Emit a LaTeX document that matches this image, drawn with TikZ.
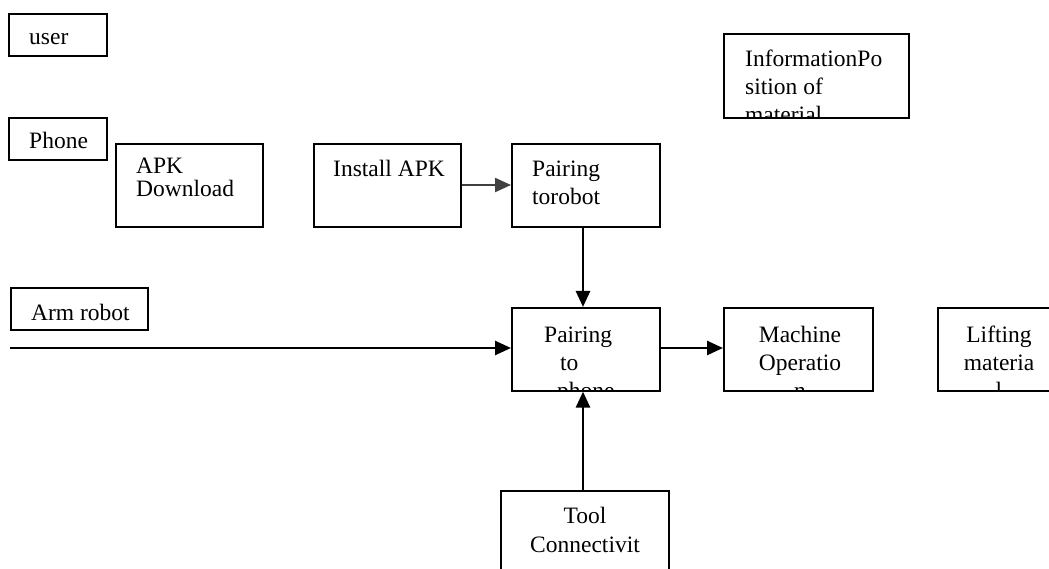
\documentclass[tikz,border=0pt]{standalone}
\usepackage{fontspec}
\setmainfont{Liberation Serif}
\usetikzlibrary{arrows.meta}

\tikzset{
  box/.style={draw=black, line width=1.6pt, fill=none, inner sep=0pt, anchor=north west},
  label/.style={inner sep=0pt, font=\fontsize{23.5}{28}\selectfont},
  flow/.style={line width=2.6pt, -{Triangle[length=16pt,width=14pt]}},
}

% a box of given corners; its text is clipped to the frame
\newcommand{\cbox}[5]{% name, x0, y0, x1, y1
  \node[box, minimum width={#4-#2}, minimum height={#5-#3}] (#1) at (#2,#3) {};
}

\begin{document}
\begin{tikzpicture}[x=1pt, y=-1pt]
  \useasboundingbox (0,0) rectangle (1049,569);
  \clip (0,0) rectangle (1049,569);

  % ---- frames ----
  \cbox{user}{8}{13}{106}{55}
  \cbox{phone}{8}{117}{106}{159}
  \cbox{apk}{115}{143}{262}{226}
  \cbox{install}{313}{143}{460}{226}
  \cbox{pairbot}{511}{143}{659}{226}
  \cbox{info}{723}{33}{908}{117}
  \cbox{arm}{10}{287}{147}{329}
  \cbox{pairphone}{511}{307}{659}{390}
  \cbox{machine}{723}{307}{872}{390}
  \cbox{lifting}{937}{307}{1070}{390}
  \cbox{tool}{500}{490}{668}{620}

  % ---- texts ----
  \node[label, anchor=base west] (user-t) at (29,45) {user};
  \node[label, anchor=base west] (phone-t) at (29,149) {Phone};
  \node[label, anchor=base west] (apk-t1) at (136,174) {APK};
  \node[label, anchor=base west] (apk-t2) at (136,197) {Download};
  \node[label, anchor=base west] (install-t) at (333,177) {Install APK};
  \node[label, anchor=base west] (pairbot-t1) at (532,177) {Pairing};
  \node[label, anchor=base west] (pairbot-t2) at (532,205) {torobot};
  \node[label, anchor=base west] (arm-t) at (31,320) {Arm robot};

  \begin{scope}
    \clip (info.north west) rectangle (info.south east);
    \node[label, anchor=base west] (info-t1) at (745,67) {InformationPo};
    \node[label, anchor=base west] (info-t2) at (745,95) {sition of};
    \node[label, anchor=base west] (info-t3) at (745,123) {material};
  \end{scope}

  \begin{scope}
    \clip (pairphone.north west) rectangle (pairphone.south east);
    \node[label, anchor=base west] (pairphone-t1) at (544,342) {Pairing};
    \node[label, anchor=base west] (pairphone-t2) at (560,370) {to};
    \node[label, anchor=base west] (pairphone-t3) at (557,398) {phone};
  \end{scope}

  \begin{scope}
    \clip (machine.north west) rectangle (machine.south east);
    \node[label, anchor=base] (machine-t1) at (800,342) {Machine};
    \node[label, anchor=base] (machine-t2) at (800,370) {Operatio};
    \node[label, anchor=base] (machine-t3) at (800,398) {n};
  \end{scope}

  \begin{scope}
    \clip (lifting.north west) rectangle (lifting.south east);
    \node[label, anchor=base] (lifting-t1) at (999,342) {Lifting};
    \node[label, anchor=base] (lifting-t2) at (999,370) {materia};
    \node[label, anchor=base] (lifting-t3) at (999,398) {l};
  \end{scope}

  \node[label, anchor=base] (tool-t1) at (585,523) {Tool};
  \node[label, anchor=base] (tool-t2) at (585,552) {Connectivit};

  % ---- connectors ----
  \coordinate (armstart) at (10,348);
  \draw[flow, line width=2.2pt, draw=black!75] (install.east |- 0,185) -- (pairbot.west |- 0,185);
  \draw[flow] (pairbot.south -| 583,0) -- (pairphone.north -| 583,0);
  \draw[flow] (tool.north -| 583,0) -- (pairphone.south -| 583,0);
  \draw[flow] (armstart) -- (pairphone.west |- armstart);
  \draw[flow] (pairphone.east |- armstart) -- (machine.west |- armstart);
\end{tikzpicture}
\end{document}
